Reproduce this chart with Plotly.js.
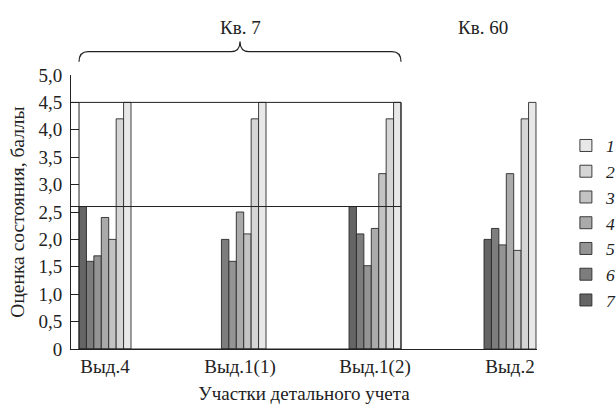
<!DOCTYPE html>
<html><head><meta charset="utf-8">
<script src="https://cdn.plot.ly/plotly-3.0.1.min.js"></script>
<style>html,body{margin:0;padding:0;background:#fff}</style>
</head><body><div id="chart" style="width:616px;height:404px"></div>
<script>
const categories = ['Выд.4', 'Выд.1(1)', 'Выд.1(2)', 'Выд.2'];
const s1 = [4.5, 4.5, 4.5, 4.5];
const s2 = [4.2, 4.2, 4.2, 4.2];
const s3 = [2.0, 2.1, 3.2, 1.8];
const s4 = [2.4, 2.5, 2.2, 3.2];
const s5 = [1.7, 1.6, 1.52, 1.9];
const s6 = [1.6, 2.0, 2.1, 2.2];
const s7 = [2.6, null, 2.6, 2.0];
const seriesNames = ['1', '2', '3', '4', '5', '6', '7'];
const seriesColors = ['#e8e8e8', '#d5d5d5', '#c3c3c3', '#aaaaaa', '#949494', '#7d7d7d', '#656565'];
const yTickVals = [0, 0.5, 1, 1.5, 2, 2.5, 3, 3.5, 4, 4.5, 5];
const yTickText = ['0', '0,5', '1,0', '1,5', '2,0', '2,5', '3,0', '3,5', '4,0', '4,5', '5,0'];
const thresholds = [4.5, 2.6];
const groupLabels = ['Кв. 7', 'Кв. 60'];
const xTitle = 'Участки детального учета';
const yTitle = 'Оценка состояния, баллы';

const series = [s1, s2, s3, s4, s5, s6, s7];
const FONT = '"Liberation Serif", "Times New Roman", serif';
const bargap = 0.615;
const g = 1 - bargap;
const xr = [-0.252, 3.2];
const xp = v => (v - xr[0]) / (xr[1] - xr[0]);

const traces = [];
for (let i = 6; i >= 0; i--) {
  traces.push({
    type: 'bar', x: categories, y: series[i], name: '<i>' + seriesNames[i] + '</i>',
    marker: {color: seriesColors[i], line: {color: '#2a2a2a', width: 0.9}},
    hoverinfo: 'y'
  });
}

const boxL = 0 - g / 2, boxR = 2 + g / 2;
const px0 = xp(boxL), px1 = xp(boxR), pm = (px0 + px1) / 2;
const dx = 9 / 466;
const yEnd = 1.048, yFlat = 1.085, yPeak = 1.122;
const brace = `M${px0},${yEnd} Q${px0},${yFlat} ${px0 + dx},${yFlat} L${pm - dx},${yFlat} Q${pm},${yFlat} ${pm},${yPeak} Q${pm},${yFlat} ${pm + dx},${yFlat} L${px1 - dx},${yFlat} Q${px1},${yFlat} ${px1},${yEnd}`;

const layout = {
  width: 616, height: 404,
  margin: {l: 71, r: 79, t: 75, b: 55, autoexpand: false},
  paper_bgcolor: '#fff', plot_bgcolor: '#fff',
  barmode: 'group', bargap: bargap, bargroupgap: 0,
  font: {family: FONT, size: 19, color: '#222'},
  showlegend: true,
  legend: {x: 1.062, y: 0.808, xanchor: 'left', yanchor: 'top', traceorder: 'reversed',
           font: {family: FONT, size: 17.5, color: '#222'}, bgcolor: 'rgba(0,0,0,0)', tracegroupgap: 0},
  xaxis: {type: 'category', range: xr, showline: true, linecolor: '#222', linewidth: 1,
          ticks: '', showgrid: false, zeroline: false, tickfont: {family: FONT, size: 19, color: '#222'},
          title: {text: xTitle, font: {family: FONT, size: 19, color: '#222'}, standoff: 13}},
  yaxis: {range: [0, 5], tickvals: yTickVals, ticktext: yTickText, showline: true, linecolor: '#222',
          linewidth: 1, ticks: 'inside', ticklen: 8, tickcolor: '#222', showgrid: false, zeroline: false,
          ticklabelstandoff: 4, tickfont: {family: FONT, size: 19, color: '#222'},
          title: {text: yTitle, font: {family: FONT, size: 19.5, color: '#222'}, standoff: 8}},
  shapes: [
    {type: 'rect', xref: 'x', yref: 'y', x0: boxL, x1: boxR, y0: 0, y1: thresholds[0],
     line: {color: '#222', width: 1}, fillcolor: 'rgba(0,0,0,0)', layer: 'above'},
    {type: 'line', xref: 'x', yref: 'y', x0: xr[0], x1: boxR, y0: thresholds[1], y1: thresholds[1],
     line: {color: '#222', width: 1}, layer: 'above'},
    {type: 'line', xref: 'x', yref: 'y', x0: xr[0], x1: boxL, y0: thresholds[0], y1: thresholds[0],
     line: {color: '#222', width: 1}, layer: 'above'},
    {type: 'path', xref: 'paper', yref: 'paper', path: brace, line: {color: '#222', width: 1.2}}
  ],
  annotations: [
    {text: groupLabels[0], xref: 'paper', yref: 'paper', x: pm, y: 1.175, yanchor: 'middle',
     showarrow: false, font: {family: FONT, size: 19, color: '#222'}},
    {text: groupLabels[1], xref: 'paper', yref: 'paper', x: xp(3), y: 1.175, yanchor: 'middle',
     showarrow: false, font: {family: FONT, size: 19, color: '#222'}}
  ]
};

Plotly.newPlot('chart', traces, layout, {displayModeBar: false, staticPlot: true});
</script>
</body></html>
